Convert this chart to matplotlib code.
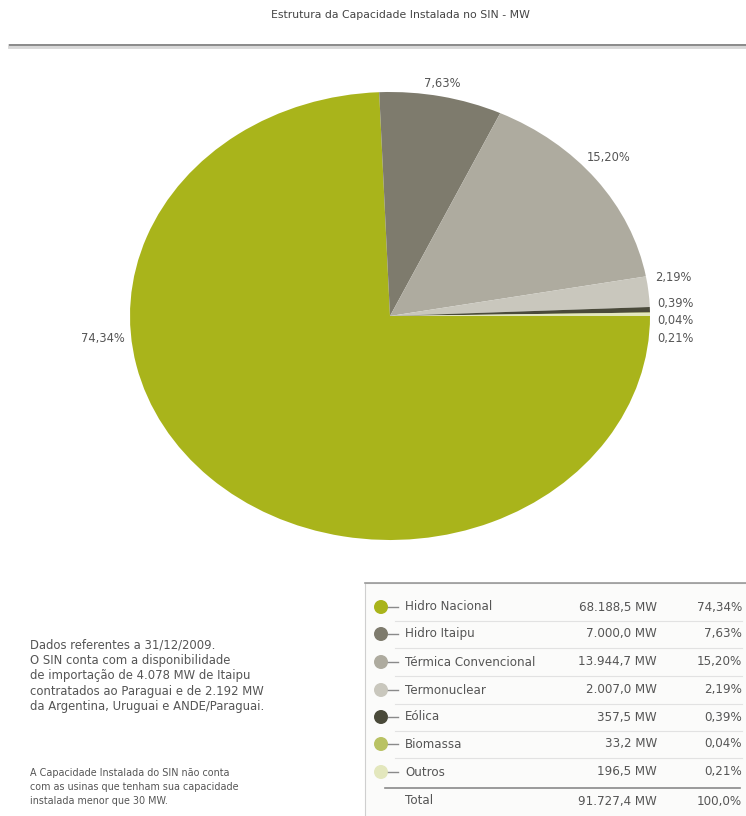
import matplotlib
matplotlib.use("Agg")
import matplotlib.pyplot as plt
from matplotlib.lines import Line2D
from matplotlib.patches import Circle, Rectangle

plt.rcParams['font.family'] = ['DejaVu Sans']

# ---- data ----
categories = ["Hidro Nacional", "Hidro Itaipu", "Térmica Convencional", "Termonuclear",
              "Eólica", "Biomassa", "Outros"]
capacity_mw = [68188.5, 7000.0, 13944.7, 2007.0, 357.5, 33.2, 196.5]
capacity_labels = ["68.188,5 MW", "7.000,0 MW", "13.944,7 MW", "2.007,0 MW",
                   "357,5 MW", "33,2 MW", "196,5 MW"]
pct_labels = ["74,34%", "7,63%", "15,20%", "2,19%", "0,39%", "0,04%", "0,21%"]
total_label = "91.727,4 MW"
total_pct = "100,0%"
colors = ["#a9b41b", "#7e7b6d", "#aeab9f", "#c9c7bd", "#4a4a3a", "#b9c263", "#e3e7bd"]

W, H = 746, 816
fig = plt.figure(figsize=(W / 100, H / 100), dpi=100)
fig.patch.set_facecolor("white")
TXT = "#555555"

def fx(px):
    return px / W

def fy(py):
    return 1 - py / H

# title
fig.text(fx(400), fy(15), "Estrutura da Capacidade Instalada no SIN - MW",
         ha="center", va="center", fontsize=7.8, color="#444444")
fig.add_artist(Line2D([fx(10), fx(746)], [fy(46), fy(46)], color="#d8d8d8", lw=3.5))
fig.add_artist(Line2D([fx(10), fx(746)], [fy(45), fy(45)], color="#8a8a8a", lw=1.4))

# pie (elliptical)
cx, cy, rx, ry = 390, 316, 260, 224
ax = fig.add_axes([fx(cx - rx), fy(cy + ry), 2 * rx / W, 2 * ry / H])
wedges, _ = ax.pie(capacity_mw, colors=colors, startangle=0, counterclock=False,
                   radius=1, wedgeprops=dict(linewidth=0))
ax.set_aspect("auto")
ax.set_xlim(-1, 1)
ax.set_ylim(-1, 1)
ax.axis("off")

# percentage labels (pixel positions of the original layout)
label_pos = [(125, 338, "right"), (424, 84, "left"), (587, 158, "left"),
             (655, 278, "left"), (657, 303, "left"), (657, 321, "left"), (657, 338, "left")]
for (px, py, ha), t in zip(label_pos, pct_labels):
    fig.text(fx(px), fy(py), t, ha=ha, va="center", fontsize=8.3, color=TXT)

# left notes
note1 = ("Dados referentes a 31/12/2009.\n"
         "O SIN conta com a disponibilidade\n"
         "de importação de 4.078 MW de Itaipu\n"
         "contratados ao Paraguai e de 2.192 MW\n"
         "da Argentina, Uruguai e ANDE/Paraguai.")
fig.text(fx(30), fy(639), note1, ha="left", va="top", fontsize=8.4,
         color=TXT, linespacing=1.22)
note2 = ("A Capacidade Instalada do SIN não conta\n"
         "com as usinas que tenham sua capacidade\n"
         "instalada menor que 30 MW.")
fig.text(fx(30), fy(768), note2, ha="left", va="top", fontsize=6.9,
         color=TXT, linespacing=1.5)

# table
tx = fig.add_axes([0, 0, 1, 1])
tx.set_xlim(0, W)
tx.set_ylim(H, 0)
tx.axis("off")
tx.add_patch(Rectangle((365, 583), 390, 240, facecolor="#fbfbfa",
                       edgecolor="#cfcfcf", lw=0.8))
tx.plot([365, 746], [583, 583], color="#9a9a9a", lw=1.2)
row_y = [607, 634, 662, 690, 717, 744, 772]
for i, (y, name, mw, pc, c) in enumerate(zip(row_y, categories, capacity_labels,
                                              pct_labels, colors)):
    tx.plot([388, 398], [y, y], color="#8a8a8a", lw=1.0)
    tx.add_patch(Circle((381, y), 7, facecolor=c, edgecolor="none"))
    tx.text(405, y, name, ha="left", va="center", fontsize=8.6, color=TXT)
    tx.text(657, y, mw, ha="right", va="center", fontsize=8.6, color=TXT)
    tx.text(742, y, pc, ha="right", va="center", fontsize=8.6, color=TXT)
    if i < len(row_y) - 1:
        sep = (y + row_y[i + 1]) / 2
        tx.plot([395, 742], [sep, sep], color="#e2e2e2", lw=0.8)
tx.plot([385, 740], [788, 788], color="#8a8a8a", lw=1.2)
tx.text(405, 801, "Total", ha="left", va="center", fontsize=8.6, color=TXT)
tx.text(657, 801, total_label, ha="right", va="center", fontsize=8.6, color=TXT)
tx.text(742, 801, total_pct, ha="right", va="center", fontsize=8.6, color=TXT)

fig.savefig("out.png", dpi=100, facecolor="white")
